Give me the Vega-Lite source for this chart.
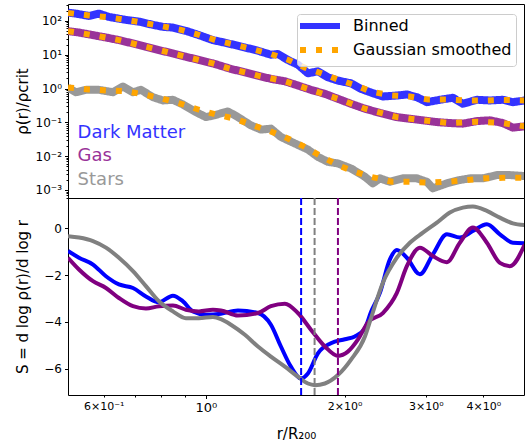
{
  "$schema": "https://vega.github.io/schema/vega-lite/v6.json",
  "padding": {"left": 14, "top": 3, "right": 1, "bottom": 0},
  "spacing": 0,
  "bounds": "flush",
  "config": {
    "font": "DejaVu Sans",
    "view": {"stroke": "#000000", "strokeWidth": 1},
    "axis": {
      "labelFont": "DejaVu Sans", "titleFont": "DejaVu Sans",
      "labelColor": "#000000", "titleColor": "#000000", "tickColor": "#000000",
      "domain": false, "grid": false, "titleFontWeight": "normal",
      "labelFontSize": 12, "titleFontSize": 15, "labelOverlap": false
    }
  },
  "datasets": {
    "binned": [
      {"r":0.502,"rho":175.5,"key":"Dark Matter"},{"r":0.5224,"rho":164,"key":"Dark Matter"},{"r":0.5575,"rho":140,"key":"Dark Matter"},{"r":0.5861,"rho":164,"key":"Dark Matter"},{"r":0.616,"rho":131,"key":"Dark Matter"},{"r":0.6707,"rho":107,"key":"Dark Matter"},{"r":0.7156,"rho":95.3,"key":"Dark Matter"},{"r":0.7674,"rho":76.3,"key":"Dark Matter"},{"r":0.8068,"rho":66.6,"key":"Dark Matter"},{"r":0.8479,"rho":63.6,"key":"Dark Matter"},{"r":0.9049,"rho":50.8,"key":"Dark Matter"},{"r":0.9656,"rho":38,"key":"Dark Matter"},{"r":1.0356,"rho":27,"key":"Dark Matter"},{"r":1.0778,"rho":24.1,"key":"Dark Matter"},{"r":1.133,"rho":20.6,"key":"Dark Matter"},{"r":1.215,"rho":16.4,"key":"Dark Matter"},{"r":1.2967,"rho":13.1,"key":"Dark Matter"},{"r":1.3836,"rho":10.0,"key":"Dark Matter"},{"r":1.4328,"rho":10.5,"key":"Dark Matter"},{"r":1.5062,"rho":6.98,"key":"Dark Matter"},{"r":1.5834,"rho":5.08,"key":"Dark Matter"},{"r":1.6646,"rho":2.82,"key":"Dark Matter"},{"r":1.7498,"rho":3.23,"key":"Dark Matter"},{"r":1.8391,"rho":2.15,"key":"Dark Matter"},{"r":1.9335,"rho":1.72,"key":"Dark Matter"},{"r":2.0631,"rho":1.43,"key":"Dark Matter"},{"r":2.1687,"rho":0.98,"key":"Dark Matter"},{"r":2.303,"rho":0.727,"key":"Dark Matter"},{"r":2.421,"rho":0.582,"key":"Dark Matter"},{"r":2.5962,"rho":0.622,"key":"Dark Matter"},{"r":2.729,"rho":0.667,"key":"Dark Matter"},{"r":2.8694,"rho":0.555,"key":"Dark Matter"},{"r":3.0163,"rho":0.395,"key":"Dark Matter"},{"r":3.2184,"rho":0.465,"key":"Dark Matter"},{"r":3.4345,"rho":0.533,"key":"Dark Matter"},{"r":3.61,"rho":0.355,"key":"Dark Matter"},{"r":3.8721,"rho":0.465,"key":"Dark Matter"},{"r":4.132,"rho":0.444,"key":"Dark Matter"},{"r":4.4091,"rho":0.465,"key":"Dark Matter"},{"r":4.6345,"rho":0.395,"key":"Dark Matter"},{"r":4.92,"rho":0.444,"key":"Dark Matter"},
      {"r":0.502,"rho":49.8,"key":"Gas"},{"r":0.5303,"rho":45.3,"key":"Gas"},{"r":0.5688,"rho":38,"key":"Gas"},{"r":0.6068,"rho":32.3,"key":"Gas"},{"r":0.6475,"rho":27.1,"key":"Gas"},{"r":0.6945,"rho":21.5,"key":"Gas"},{"r":0.741,"rho":17.2,"key":"Gas"},{"r":0.7907,"rho":13.7,"key":"Gas"},{"r":0.8479,"rho":10.9,"key":"Gas"},{"r":0.9049,"rho":8.73,"key":"Gas"},{"r":0.9656,"rho":6.98,"key":"Gas"},{"r":1.0356,"rho":5.54,"key":"Gas"},{"r":1.133,"rho":3.8,"key":"Gas"},{"r":1.215,"rho":3.02,"key":"Gas"},{"r":1.2967,"rho":2.41,"key":"Gas"},{"r":1.3836,"rho":1.93,"key":"Gas"},{"r":1.4838,"rho":1.64,"key":"Gas"},{"r":1.5834,"rho":1.23,"key":"Gas"},{"r":1.6897,"rho":0.916,"key":"Gas"},{"r":1.8118,"rho":0.698,"key":"Gas"},{"r":1.9335,"rho":0.498,"key":"Gas"},{"r":2.0631,"rho":0.355,"key":"Gas"},{"r":2.2132,"rho":0.253,"key":"Gas"},{"r":2.421,"rho":0.18,"key":"Gas"},{"r":2.5962,"rho":0.143,"key":"Gas"},{"r":2.7702,"rho":0.128,"key":"Gas"},{"r":2.9566,"rho":0.115,"key":"Gas"},{"r":3.1706,"rho":0.102,"key":"Gas"},{"r":3.3834,"rho":0.0953,"key":"Gas"},{"r":3.61,"rho":0.0916,"key":"Gas"},{"r":3.8721,"rho":0.109,"key":"Gas"},{"r":4.132,"rho":0.115,"key":"Gas"},{"r":4.4091,"rho":0.0953,"key":"Gas"},{"r":4.6345,"rho":0.0698,"key":"Gas"},{"r":4.92,"rho":0.0762,"key":"Gas"},
      {"r":0.502,"rho":1.05,"key":"Stars"},{"r":0.5224,"rho":0.778,"key":"Stars"},{"r":0.5492,"rho":0.916,"key":"Stars"},{"r":0.5861,"rho":0.916,"key":"Stars"},{"r":0.6284,"rho":0.778,"key":"Stars"},{"r":0.6607,"rho":1.146,"key":"Stars"},{"r":0.6945,"rho":0.778,"key":"Stars"},{"r":0.7228,"rho":0.916,"key":"Stars"},{"r":0.7674,"rho":0.555,"key":"Stars"},{"r":0.8068,"rho":0.444,"key":"Stars"},{"r":0.8479,"rho":0.465,"key":"Stars"},{"r":0.8915,"rho":0.338,"key":"Stars"},{"r":0.9513,"rho":0.201,"key":"Stars"},{"r":1.0,"rho":0.143,"key":"Stars"},{"r":1.0408,"rho":0.161,"key":"Stars"},{"r":1.1161,"rho":0.211,"key":"Stars"},{"r":1.1733,"rho":0.143,"key":"Stars"},{"r":1.252,"rho":0.0817,"key":"Stars"},{"r":1.3163,"rho":0.061,"key":"Stars"},{"r":1.3836,"rho":0.0653,"key":"Stars"},{"r":1.4545,"rho":0.037,"key":"Stars"},{"r":1.5598,"rho":0.0237,"key":"Stars"},{"r":1.6646,"rho":0.0157,"key":"Stars"},{"r":1.7498,"rho":0.00953,"key":"Stars"},{"r":1.8391,"rho":0.0068,"key":"Stars"},{"r":1.9335,"rho":0.0061,"key":"Stars"},{"r":2.0631,"rho":0.00435,"key":"Stars"},{"r":2.2132,"rho":0.00246,"key":"Stars"},{"r":2.303,"rho":0.00157,"key":"Stars"},{"r":2.385,"rho":0.00221,"key":"Stars"},{"r":2.5073,"rho":0.00175,"key":"Stars"},{"r":2.675,"rho":0.00221,"key":"Stars"},{"r":2.8694,"rho":0.00221,"key":"Stars"},{"r":3.0163,"rho":0.00175,"key":"Stars"},{"r":3.1077,"rho":0.00112,"key":"Stars"},{"r":3.3332,"rho":0.00157,"key":"Stars"},{"r":3.5563,"rho":0.00197,"key":"Stars"},{"r":3.7388,"rho":0.00221,"key":"Stars"},{"r":3.99,"rho":0.00221,"key":"Stars"},{"r":4.279,"rho":0.00276,"key":"Stars"},{"r":4.5663,"rho":0.00276,"key":"Stars"},{"r":4.92,"rho":0.00258,"key":"Stars"}
    ],
    "smooth": [
      {"r":0.502,"rho":172,"sp":"Dark Matter","key":"Gaussian smoothed"},{"r":0.5575,"rho":145,"sp":"Dark Matter","key":"Gaussian smoothed"},{"r":0.616,"rho":127,"sp":"Dark Matter","key":"Gaussian smoothed"},{"r":0.6707,"rho":107,"sp":"Dark Matter","key":"Gaussian smoothed"},{"r":0.7336,"rho":87.3,"sp":"Dark Matter","key":"Gaussian smoothed"},{"r":0.8068,"rho":68.9,"sp":"Dark Matter","key":"Gaussian smoothed"},{"r":0.8827,"rho":54.4,"sp":"Dark Matter","key":"Gaussian smoothed"},{"r":0.9656,"rho":38.8,"sp":"Dark Matter","key":"Gaussian smoothed"},{"r":1.0513,"rho":26.7,"sp":"Dark Matter","key":"Gaussian smoothed"},{"r":1.1559,"rho":19.7,"sp":"Dark Matter","key":"Gaussian smoothed"},{"r":1.2647,"rho":14.5,"sp":"Dark Matter","key":"Gaussian smoothed"},{"r":1.3765,"rho":10.7,"sp":"Dark Matter","key":"Gaussian smoothed"},{"r":1.5062,"rho":7.13,"sp":"Dark Matter","key":"Gaussian smoothed"},{"r":1.6398,"rho":4.15,"sp":"Dark Matter","key":"Gaussian smoothed"},{"r":1.7762,"rho":2.86,"sp":"Dark Matter","key":"Gaussian smoothed"},{"r":1.9335,"rho":1.84,"sp":"Dark Matter","key":"Gaussian smoothed"},{"r":2.1047,"rho":1.27,"sp":"Dark Matter","key":"Gaussian smoothed"},{"r":2.2803,"rho":0.816,"sp":"Dark Matter","key":"Gaussian smoothed"},{"r":2.5325,"rho":0.622,"sp":"Dark Matter","key":"Gaussian smoothed"},{"r":2.7702,"rho":0.582,"sp":"Dark Matter","key":"Gaussian smoothed"},{"r":3.0316,"rho":0.474,"sp":"Dark Matter","key":"Gaussian smoothed"},{"r":3.3332,"rho":0.474,"sp":"Dark Matter","key":"Gaussian smoothed"},{"r":3.6831,"rho":0.444,"sp":"Dark Matter","key":"Gaussian smoothed"},{"r":4.0297,"rho":0.444,"sp":"Dark Matter","key":"Gaussian smoothed"},{"r":4.4091,"rho":0.46,"sp":"Dark Matter","key":"Gaussian smoothed"},{"r":4.92,"rho":0.444,"sp":"Dark Matter","key":"Gaussian smoothed"},
      {"r":0.502,"rho":49.8,"sp":"Gas","key":"Gaussian smoothed"},{"r":0.5688,"rho":38,"sp":"Gas","key":"Gaussian smoothed"},{"r":0.6475,"rho":27.1,"sp":"Gas","key":"Gaussian smoothed"},{"r":0.741,"rho":17.2,"sp":"Gas","key":"Gaussian smoothed"},{"r":0.8479,"rho":10.9,"sp":"Gas","key":"Gaussian smoothed"},{"r":0.9656,"rho":6.98,"sp":"Gas","key":"Gaussian smoothed"},{"r":1.0356,"rho":5.54,"sp":"Gas","key":"Gaussian smoothed"},{"r":1.133,"rho":3.8,"sp":"Gas","key":"Gaussian smoothed"},{"r":1.2967,"rho":2.41,"sp":"Gas","key":"Gaussian smoothed"},{"r":1.4838,"rho":1.64,"sp":"Gas","key":"Gaussian smoothed"},{"r":1.6897,"rho":0.916,"sp":"Gas","key":"Gaussian smoothed"},{"r":1.9335,"rho":0.498,"sp":"Gas","key":"Gaussian smoothed"},{"r":2.2132,"rho":0.253,"sp":"Gas","key":"Gaussian smoothed"},{"r":2.5962,"rho":0.143,"sp":"Gas","key":"Gaussian smoothed"},{"r":2.9566,"rho":0.115,"sp":"Gas","key":"Gaussian smoothed"},{"r":3.3834,"rho":0.0953,"sp":"Gas","key":"Gaussian smoothed"},{"r":3.8721,"rho":0.105,"sp":"Gas","key":"Gaussian smoothed"},{"r":4.4091,"rho":0.095,"sp":"Gas","key":"Gaussian smoothed"},{"r":4.92,"rho":0.0762,"sp":"Gas","key":"Gaussian smoothed"},
      {"r":0.502,"rho":1.07,"sp":"Stars","key":"Gaussian smoothed"},{"r":0.5575,"rho":0.935,"sp":"Stars","key":"Gaussian smoothed"},{"r":0.6129,"rho":0.873,"sp":"Stars","key":"Gaussian smoothed"},{"r":0.6707,"rho":0.833,"sp":"Stars","key":"Gaussian smoothed"},{"r":0.7336,"rho":0.667,"sp":"Stars","key":"Gaussian smoothed"},{"r":0.8068,"rho":0.498,"sp":"Stars","key":"Gaussian smoothed"},{"r":0.8827,"rho":0.355,"sp":"Stars","key":"Gaussian smoothed"},{"r":0.9656,"rho":0.236,"sp":"Stars","key":"Gaussian smoothed"},{"r":1.0513,"rho":0.172,"sp":"Stars","key":"Gaussian smoothed"},{"r":1.1559,"rho":0.128,"sp":"Stars","key":"Gaussian smoothed"},{"r":1.2647,"rho":0.0817,"sp":"Stars","key":"Gaussian smoothed"},{"r":1.3765,"rho":0.0555,"sp":"Stars","key":"Gaussian smoothed"},{"r":1.5062,"rho":0.0332,"sp":"Stars","key":"Gaussian smoothed"},{"r":1.6398,"rho":0.0188,"sp":"Stars","key":"Gaussian smoothed"},{"r":1.7762,"rho":0.01,"sp":"Stars","key":"Gaussian smoothed"},{"r":1.9335,"rho":0.00543,"sp":"Stars","key":"Gaussian smoothed"},{"r":2.1047,"rho":0.00345,"sp":"Stars","key":"Gaussian smoothed"},{"r":2.2803,"rho":0.00246,"sp":"Stars","key":"Gaussian smoothed"},{"r":2.5325,"rho":0.00175,"sp":"Stars","key":"Gaussian smoothed"},{"r":2.7702,"rho":0.00175,"sp":"Stars","key":"Gaussian smoothed"},{"r":3.0316,"rho":0.00164,"sp":"Stars","key":"Gaussian smoothed"},{"r":3.3332,"rho":0.00175,"sp":"Stars","key":"Gaussian smoothed"},{"r":3.6831,"rho":0.00197,"sp":"Stars","key":"Gaussian smoothed"},{"r":4.0297,"rho":0.00221,"sp":"Stars","key":"Gaussian smoothed"},{"r":4.4091,"rho":0.0023,"sp":"Stars","key":"Gaussian smoothed"},{"r":4.92,"rho":0.0023,"sp":"Stars","key":"Gaussian smoothed"}
    ],
    "labels": [
      {"r":0.5267,"rho":0.0484,"key":"Dark Matter"},
      {"r":0.5267,"rho":0.0100,"key":"Gas"},
      {"r":0.5267,"rho":0.00197,"key":"Stars"}
    ],
    "slope": [
      {"r":0.502,"S":-0.97,"sp":"Dark Matter"},{"r":0.5303,"S":-1.26,"sp":"Dark Matter"},{"r":0.5688,"S":-1.55,"sp":"Dark Matter"},{"r":0.6068,"S":-2.05,"sp":"Dark Matter"},{"r":0.6475,"S":-2.4,"sp":"Dark Matter"},{"r":0.6945,"S":-2.55,"sp":"Dark Matter"},{"r":0.741,"S":-2.91,"sp":"Dark Matter"},{"r":0.7907,"S":-3.16,"sp":"Dark Matter"},{"r":0.8479,"S":-2.88,"sp":"Dark Matter"},{"r":0.8915,"S":-3.12,"sp":"Dark Matter"},{"r":0.9371,"S":-3.55,"sp":"Dark Matter"},{"r":1.0,"S":-3.69,"sp":"Dark Matter"},{"r":1.0778,"S":-3.65,"sp":"Dark Matter"},{"r":1.1733,"S":-3.51,"sp":"Dark Matter"},{"r":1.2967,"S":-3.62,"sp":"Dark Matter"},{"r":1.3836,"S":-4.12,"sp":"Dark Matter"},{"r":1.4545,"S":-5.05,"sp":"Dark Matter"},{"r":1.5289,"S":-5.91,"sp":"Dark Matter"},{"r":1.6073,"S":-6.41,"sp":"Dark Matter"},{"r":1.6646,"S":-6.2,"sp":"Dark Matter"},{"r":1.7498,"S":-5.34,"sp":"Dark Matter"},{"r":1.8669,"S":-4.91,"sp":"Dark Matter"},{"r":2.0028,"S":-4.74,"sp":"Dark Matter"},{"r":2.1047,"S":-4.62,"sp":"Dark Matter"},{"r":2.2132,"S":-4.27,"sp":"Dark Matter"},{"r":2.2803,"S":-3.59,"sp":"Dark Matter"},{"r":2.385,"S":-2.76,"sp":"Dark Matter"},{"r":2.5073,"S":-1.33,"sp":"Dark Matter"},{"r":2.5962,"S":-0.93,"sp":"Dark Matter"},{"r":2.729,"S":-1.26,"sp":"Dark Matter"},{"r":2.9126,"S":-1.97,"sp":"Dark Matter"},{"r":3.1077,"S":-1.12,"sp":"Dark Matter"},{"r":3.3332,"S":-0.26,"sp":"Dark Matter"},{"r":3.5563,"S":-0.4,"sp":"Dark Matter"},{"r":3.7953,"S":-0.12,"sp":"Dark Matter"},{"r":4.0703,"S":0.17,"sp":"Dark Matter"},{"r":4.3435,"S":-0.26,"sp":"Dark Matter"},{"r":4.6345,"S":-0.62,"sp":"Dark Matter"},{"r":4.92,"S":-0.64,"sp":"Dark Matter"},
      {"r":0.502,"S":-1.26,"sp":"Gas"},{"r":0.5303,"S":-1.76,"sp":"Gas"},{"r":0.5688,"S":-2.26,"sp":"Gas"},{"r":0.6068,"S":-2.55,"sp":"Gas"},{"r":0.6475,"S":-2.98,"sp":"Gas"},{"r":0.6945,"S":-3.33,"sp":"Gas"},{"r":0.741,"S":-3.43,"sp":"Gas"},{"r":0.7907,"S":-3.33,"sp":"Gas"},{"r":0.8479,"S":-3.3,"sp":"Gas"},{"r":0.9049,"S":-3.48,"sp":"Gas"},{"r":0.9656,"S":-3.55,"sp":"Gas"},{"r":1.0356,"S":-3.48,"sp":"Gas"},{"r":1.0778,"S":-3.51,"sp":"Gas"},{"r":1.1733,"S":-3.73,"sp":"Gas"},{"r":1.2967,"S":-3.62,"sp":"Gas"},{"r":1.3836,"S":-3.33,"sp":"Gas"},{"r":1.4838,"S":-3.22,"sp":"Gas"},{"r":1.5834,"S":-3.62,"sp":"Gas"},{"r":1.6897,"S":-4.33,"sp":"Gas"},{"r":1.8118,"S":-5.05,"sp":"Gas"},{"r":1.9335,"S":-5.45,"sp":"Gas"},{"r":2.0324,"S":-5.27,"sp":"Gas"},{"r":2.1364,"S":-4.76,"sp":"Gas"},{"r":2.2466,"S":-4.02,"sp":"Gas"},{"r":2.421,"S":-3.62,"sp":"Gas"},{"r":2.5962,"S":-2.76,"sp":"Gas"},{"r":2.729,"S":-1.62,"sp":"Gas"},{"r":2.9126,"S":-0.83,"sp":"Gas"},{"r":3.1077,"S":-1.19,"sp":"Gas"},{"r":3.3332,"S":-1.45,"sp":"Gas"},{"r":3.5563,"S":-0.62,"sp":"Gas"},{"r":3.7953,"S":0.03,"sp":"Gas"},{"r":4.0703,"S":-0.62,"sp":"Gas"},{"r":4.3435,"S":-1.48,"sp":"Gas"},{"r":4.5663,"S":-1.62,"sp":"Gas"},{"r":4.92,"S":-0.69,"sp":"Gas"},
      {"r":0.502,"S":-0.34,"sp":"Stars"},{"r":0.5303,"S":-0.4,"sp":"Stars"},{"r":0.5688,"S":-0.55,"sp":"Stars"},{"r":0.6068,"S":-0.83,"sp":"Stars"},{"r":0.6475,"S":-1.26,"sp":"Stars"},{"r":0.6945,"S":-1.83,"sp":"Stars"},{"r":0.741,"S":-2.47,"sp":"Stars"},{"r":0.7907,"S":-3.12,"sp":"Stars"},{"r":0.8479,"S":-3.55,"sp":"Stars"},{"r":0.9049,"S":-3.84,"sp":"Stars"},{"r":0.9656,"S":-3.84,"sp":"Stars"},{"r":1.0356,"S":-3.79,"sp":"Stars"},{"r":1.0778,"S":-3.88,"sp":"Stars"},{"r":1.133,"S":-4.12,"sp":"Stars"},{"r":1.215,"S":-4.55,"sp":"Stars"},{"r":1.2967,"S":-5.05,"sp":"Stars"},{"r":1.3836,"S":-5.48,"sp":"Stars"},{"r":1.4838,"S":-5.91,"sp":"Stars"},{"r":1.5834,"S":-6.34,"sp":"Stars"},{"r":1.6646,"S":-6.63,"sp":"Stars"},{"r":1.7237,"S":-6.7,"sp":"Stars"},{"r":1.8118,"S":-6.63,"sp":"Stars"},{"r":1.9335,"S":-6.27,"sp":"Stars"},{"r":2.0631,"S":-5.62,"sp":"Stars"},{"r":2.2132,"S":-4.62,"sp":"Stars"},{"r":2.2803,"S":-3.85,"sp":"Stars"},{"r":2.421,"S":-2.33,"sp":"Stars"},{"r":2.5962,"S":-1.26,"sp":"Stars"},{"r":2.7702,"S":-0.62,"sp":"Stars"},{"r":2.9566,"S":-0.19,"sp":"Stars"},{"r":3.1706,"S":0.24,"sp":"Stars"},{"r":3.3834,"S":0.67,"sp":"Stars"},{"r":3.61,"S":0.88,"sp":"Stars"},{"r":3.7953,"S":0.93,"sp":"Stars"},{"r":4.0703,"S":0.74,"sp":"Stars"},{"r":4.3435,"S":0.45,"sp":"Stars"},{"r":4.6345,"S":0.21,"sp":"Stars"},{"r":4.92,"S":0.13,"sp":"Stars"}
    ],
    "minima": [
      {"r":1.609,"sp":"Dark Matter"},
      {"r":1.721,"sp":"Stars"},
      {"r":1.934,"sp":"Gas"}
    ]
  },
  "vconcat": [
    {
      "width": 456,
      "height": 194,
      "encoding": {
        "x": {"field": "r", "type": "quantitative", "scale": {"type": "log", "domain": [0.502, 4.9]}, "axis": null},
        "y": {"field": "rho", "type": "quantitative", "scale": {"type": "log", "domain": [0.00058, 316]},
          "axis": {
            "title": "ρ(r)/ρcrit",
            "titleX": -46, "titleBaseline": "middle",
            "values": [0.0006,0.0007,0.0008,0.0009,0.001,0.002,0.003,0.004,0.005,0.006,0.007,0.008,0.009,0.01,0.02,0.03,0.04,0.05,0.06,0.07,0.08,0.09,0.1,0.2,0.3,0.4,0.5,0.6,0.7,0.8,0.9,1,2,3,4,5,6,7,8,9,10,20,30,40,50,60,70,80,90,100,200,300],
            "labelExpr": "datum.value==100?'10²':datum.value==10?'10¹':datum.value==1?'10⁰':datum.value==0.1?'10⁻¹':datum.value==0.01?'10⁻²':datum.value==0.001?'10⁻³':''",
            "tickSize": {"condition": {"test": "datum.value==100||datum.value==10||datum.value==1||datum.value==0.1||datum.value==0.01||datum.value==0.001", "value": 3.5}, "value": 2},
            "labelFontSize": {"condition": {"test": "datum.value==100||datum.value==10||datum.value==1||datum.value==0.1||datum.value==0.01||datum.value==0.001", "value": 12}, "value": 0},
            "labelPadding": 3
          }
        }
      },
      "layer": [
        {
          "data": {"name": "binned"},
          "mark": {"type": "line", "strokeWidth": 8, "clip": true, "strokeJoin": "round"},
          "encoding": {
            "color": {"field": "key", "type": "nominal",
              "scale": {"domain": ["Dark Matter", "Gaussian smoothed", "Gas", "Stars"], "range": ["#3333ff", "#ffa500", "#993399", "#999999"]},
              "legend": {"title": null, "orient": "none", "legendX": 229, "legendY": 10, "values": ["Dark Matter", "Gaussian smoothed"],
                "labelExpr": "datum.label == 'Dark Matter' ? 'Binned' : datum.label",
                "symbolType": "M-2.25,0H7.75", "symbolSize": 64, "symbolStrokeWidth": 6,
                "labelFontSize": 16, "labelFont": "DejaVu Sans", "labelColor": "#000000", "labelLimit": 300,
                "fillColor": "rgba(255,255,255,0.8)", "strokeColor": "#cccccc", "cornerRadius": 3,
                "padding": 4, "rowPadding": 0, "labelOffset": 36}},
            "strokeDash": {"field": "key", "type": "nominal",
              "scale": {"domain": ["Dark Matter", "Gaussian smoothed", "Gas", "Stars"], "range": [[1,0],[6,10],[1,0],[1,0]]},
              "legend": {"title": null, "orient": "none", "legendX": 229, "legendY": 10, "values": ["Dark Matter", "Gaussian smoothed"],
                "labelExpr": "datum.label == 'Dark Matter' ? 'Binned' : datum.label",
                "symbolType": "M-2.25,0H7.75", "symbolSize": 64, "symbolStrokeWidth": 6,
                "labelFontSize": 16, "labelFont": "DejaVu Sans", "labelColor": "#000000", "labelLimit": 300,
                "fillColor": "rgba(255,255,255,0.8)", "strokeColor": "#cccccc", "cornerRadius": 3,
                "padding": 4, "rowPadding": 0, "labelOffset": 36}}
          }
        },
        {
          "data": {"name": "smooth"},
          "mark": {"type": "line", "strokeWidth": 6, "clip": true},
          "encoding": {
            "color": {"field": "key", "type": "nominal"},
            "strokeDash": {"field": "key", "type": "nominal"},
            "detail": {"field": "sp"}
          }
        },
        {
          "data": {"name": "labels"},
          "mark": {"type": "text", "align": "left", "baseline": "middle", "fontSize": 18, "font": "DejaVu Sans"},
          "encoding": {
            "text": {"field": "key"},
            "color": {"field": "key", "type": "nominal"}
          }
        }
      ]
    },
    {
      "width": 456,
      "height": 197,
      "encoding": {
        "x": {"field": "r", "type": "quantitative", "scale": {"type": "log", "domain": [0.502, 4.9]},
          "axis": {
            "title": "r/R₂₀₀",
            "values": [0.6, 0.7, 0.8, 0.9, 1, 2, 3, 4],
            "labelExpr": "datum.value==0.6?'6×10⁻¹':datum.value==1?'10⁰':datum.value==2?'2×10⁰':datum.value==3?'3×10⁰':datum.value==4?'4×10⁰':''",
            "tickSize": {"condition": {"test": "datum.value==1", "value": 3.5}, "value": 2},
            "labelFontSize": {"condition": {"test": "datum.value==1", "value": 13}, "value": 11},
            "labelPadding": 3, "titlePadding": 12
          }
        }
      },
      "layer": [
        {
          "data": {"name": "slope"},
          "mark": {"type": "line", "strokeWidth": 4, "clip": true, "interpolate": "monotone"},
          "encoding": {
            "y": {"field": "S", "type": "quantitative", "scale": {"domain": [-7.12, 1.29]},
              "axis": {
                "title": "S = d log ρ(r)/d log r",
                "titleX": -46, "titleBaseline": "middle",
                "values": [-6, -4, -2, 0],
                "labelExpr": "datum.value < 0 ? '−' + abs(datum.value) : '' + datum.value",
                "tickSize": 3.5, "labelPadding": 3
              }
            },
            "color": {"field": "sp", "type": "nominal",
              "scale": {"domain": ["Dark Matter", "Gas", "Stars"], "range": ["#0000ff", "#800080", "#808080"]},
              "legend": null}
          }
        },
        {
          "data": {"name": "minima"},
          "mark": {"type": "rule", "strokeWidth": 2, "strokeDash": [7, 3]},
          "encoding": {
            "color": {"field": "sp", "type": "nominal"}
          }
        }
      ]
    }
  ],
  "resolve": {"scale": {"color": "independent", "strokeDash": "independent"}}
}
